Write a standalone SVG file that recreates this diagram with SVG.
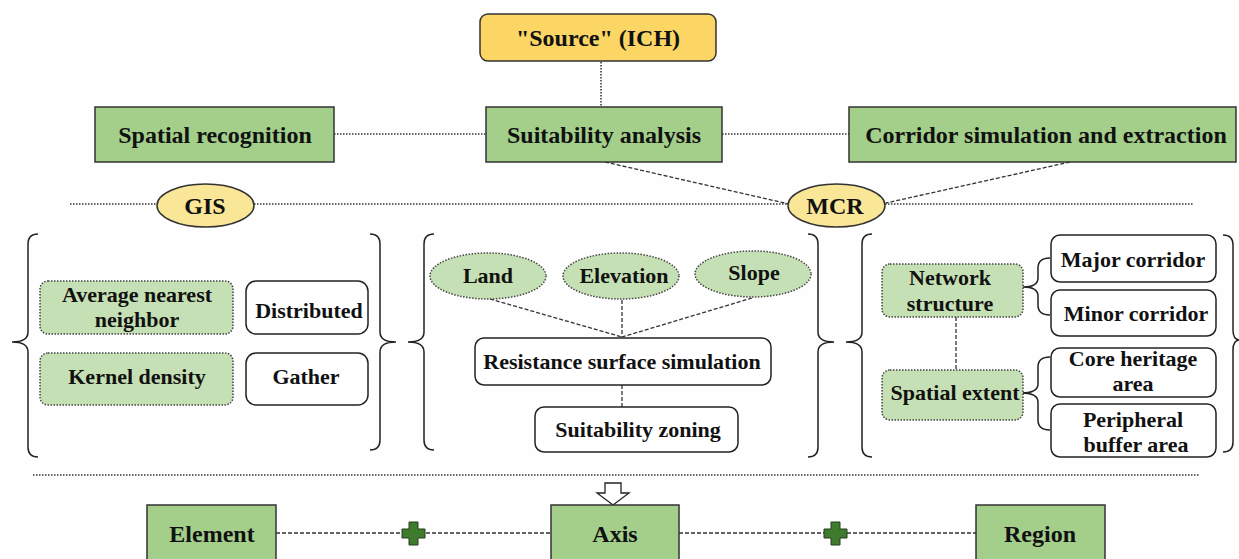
<svg xmlns="http://www.w3.org/2000/svg" width="1239" height="559" viewBox="0 0 1239 559">
<defs>
<style>
text{font-family:"Liberation Serif","Times New Roman",serif;font-weight:bold;fill:#111;text-anchor:middle}
.t24{font-size:24px}
.t22{font-size:22px}
.green{fill:#a3cf8b;stroke:#333;stroke-width:1.5}
.lgreen{fill:#c5e0b4;stroke:#444;stroke-width:1.5;stroke-dasharray:1.5 1.5}
.white{fill:#fff;stroke:#222;stroke-width:1.5}
.yellow{fill:#fbd665;stroke:#333;stroke-width:1.5}
.lyellow{fill:#fae697;stroke:#333;stroke-width:1.5}
.dot{fill:none;stroke:#333;stroke-width:1.5;stroke-dasharray:1.5 1.5}
.dash{fill:none;stroke:#333;stroke-width:1.3;stroke-dasharray:4 2}
.brace{fill:none;stroke:#222;stroke-width:1.5}
.plus{fill:#3e7b2c;stroke:#2a3a20;stroke-width:1}
</style>
<path id="plusShape" class="plus" d="M-4.5 -11.5 h9 v7 h7 v9 h-7 v7 h-9 v-7 h-7 v-9 h7 Z"/>
</defs>
<rect width="1239" height="559" fill="#fefefe"/>

<g id="connectors">
<line class="dot" x1="601" y1="62" x2="601" y2="107"/>
<line class="dot" x1="334" y1="134" x2="486" y2="134"/>
<line class="dot" x1="722" y1="134" x2="849" y2="134"/>
<line class="dot" x1="70" y1="204" x2="157" y2="204"/>
<line class="dot" x1="254" y1="204" x2="788" y2="204"/>
<line class="dot" x1="885" y1="204" x2="1193" y2="204"/>
<line class="dash" x1="605" y1="162" x2="789" y2="204"/>
<line class="dash" x1="1070" y1="162" x2="886" y2="203"/>
<line class="dash" x1="490" y1="299" x2="622" y2="337"/>
<line class="dash" x1="622" y1="300" x2="622" y2="337"/>
<line class="dash" x1="752" y1="298" x2="622" y2="337"/>
<line class="dash" x1="622" y1="385" x2="622" y2="407"/>
<line class="dash" x1="956" y1="317" x2="956" y2="370"/>
<line class="dot" x1="33" y1="475" x2="1200" y2="475"/>
<line class="dash" x1="276" y1="533" x2="551" y2="533"/>
<line class="dash" x1="679" y1="533" x2="976" y2="533"/>
<!-- braces -->
<path class="brace" d="M38 234 Q28 234 28 244 L28 332 Q28 342 12 342 Q28 342 28 352 L28 447 Q28 457 38 457"/>
<path class="brace" d="M370 234 Q380 234 380 244 L380 332 Q380 342 396 342 Q380 342 380 352 L380 440 Q380 450 370 450"/>
<path class="brace" d="M434 234 Q424 234 424 244 L424 332 Q424 342 408 342 Q424 342 424 352 L424 440 Q424 450 434 450"/>
<path class="brace" d="M808 234 Q818 234 818 244 L818 332 Q818 342 834 342 Q818 342 818 352 L818 447 Q818 457 808 457"/>
<path class="brace" d="M872 234 Q862 234 862 244 L862 332 Q862 342 846 342 Q862 342 862 352 L862 447 Q862 457 872 457"/>
<path class="brace" d="M1223 235 Q1233 235 1233 245 L1233 330 Q1233 340 1240 340 Q1233 340 1233 350 L1233 442 Q1233 452 1223 452"/>
<path class="brace" d="M1050 258 Q1038 258 1038 268 L1038 278 Q1038 287 1023 287 Q1038 287 1038 296 L1038 305 Q1038 315 1050 315"/>
<path class="brace" d="M1050 357 Q1038 357 1038 367 L1038 384 Q1038 393 1021 393 Q1038 393 1038 402 L1038 420 Q1038 430 1050 430"/>
<!-- hollow arrow -->
<path d="M605 483 L621 483 L621 493 L629 493 L613 505 L597 493 L605 493 Z" fill="#fff" stroke="#222" stroke-width="1.3"/>
</g>

<g id="source"><rect class="yellow" x="480" y="14" width="236" height="47" rx="8"/><text class="t24" x="598" y="46">"Source" (ICH)</text></g>
<g id="spatial-recognition"><rect class="green" x="95" y="107" width="239" height="55"/><text class="t24" x="215" y="143">Spatial recognition</text></g>
<g id="suitability-analysis"><rect class="green" x="486" y="107" width="236" height="55"/><text class="t24" x="604" y="143">Suitability analysis</text></g>
<g id="corridor"><rect class="green" x="849" y="107" width="387" height="55"/><text class="t24" x="1046" y="143">Corridor simulation and extraction</text></g>
<g id="gis"><ellipse class="lyellow" cx="205.5" cy="205.5" rx="48.5" ry="21.5"/><text class="t24" x="205" y="214">GIS</text></g>
<g id="mcr"><ellipse class="lyellow" cx="836.5" cy="205.5" rx="48.5" ry="21.5"/><text class="t24" x="835" y="214">MCR</text></g>

<g id="avg-nearest"><rect class="lgreen" x="40" y="281" width="193" height="53" rx="8"/><text class="t22" x="137" y="302">Average nearest</text><text class="t22" x="137" y="327">neighbor</text></g>
<g id="distributed"><rect class="white" x="246" y="281" width="122" height="53" rx="10"/><text class="t22" x="309" y="318">Distributed</text></g>
<g id="kernel-density"><rect class="lgreen" x="40" y="353" width="193" height="52" rx="8"/><text class="t22" x="137" y="384">Kernel density</text></g>
<g id="gather"><rect class="white" x="246" y="353" width="122" height="52" rx="10"/><text class="t22" x="306" y="384">Gather</text></g>

<g id="land"><ellipse class="lgreen" cx="488" cy="276" rx="58" ry="23"/><text class="t22" x="488" y="283">Land</text></g>
<g id="elevation"><ellipse class="lgreen" cx="621" cy="276" rx="58" ry="23"/><text class="t22" x="624" y="283">Elevation</text></g>
<g id="slope"><ellipse class="lgreen" cx="753" cy="274" rx="58" ry="23"/><text class="t22" x="754" y="280">Slope</text></g>
<g id="resistance"><rect class="white" x="475" y="338" width="296" height="47" rx="9"/><text class="t22" x="622" y="369">Resistance surface simulation</text></g>
<g id="suitability-zoning"><rect class="white" x="535" y="407" width="203" height="45" rx="9"/><text class="t22" x="638" y="437">Suitability zoning</text></g>

<g id="network-structure"><rect class="lgreen" x="882" y="264" width="141" height="53" rx="8"/><text class="t22" x="950" y="285">Network</text><text class="t22" x="950" y="311">structure</text></g>
<g id="spatial-extent"><rect class="lgreen" x="882" y="370" width="141" height="50" rx="8"/><text class="t22" x="955" y="400">Spatial extent</text></g>
<g id="major-corridor"><rect class="white" x="1051" y="235" width="165" height="47" rx="9"/><text class="t22" x="1133" y="267">Major corridor</text></g>
<g id="minor-corridor"><rect class="white" x="1051" y="290" width="165" height="46" rx="9"/><text class="t22" x="1136" y="321">Minor corridor</text></g>
<g id="core-heritage"><rect class="white" x="1051" y="348" width="165" height="49" rx="9"/><text class="t22" x="1133" y="366">Core heritage</text><text class="t22" x="1133" y="391">area</text></g>
<g id="peripheral-buffer"><rect class="white" x="1051" y="404" width="165" height="53" rx="9"/><text class="t22" x="1133" y="427">Peripheral</text><text class="t22" x="1136" y="452">buffer area</text></g>

<g id="plus-1"><use href="#plusShape" x="413.5" y="533.5"/></g>
<g id="plus-2"><use href="#plusShape" x="835.5" y="533.5"/></g>

<g id="element"><rect class="green" x="147" y="505" width="129" height="60"/><text class="t24" x="212" y="542">Element</text></g>
<g id="axis"><rect class="green" x="551" y="505" width="128" height="60"/><text class="t24" x="615" y="542">Axis</text></g>
<g id="region"><rect class="green" x="976" y="505" width="129" height="60"/><text class="t24" x="1040" y="542">Region</text></g>
</svg>
